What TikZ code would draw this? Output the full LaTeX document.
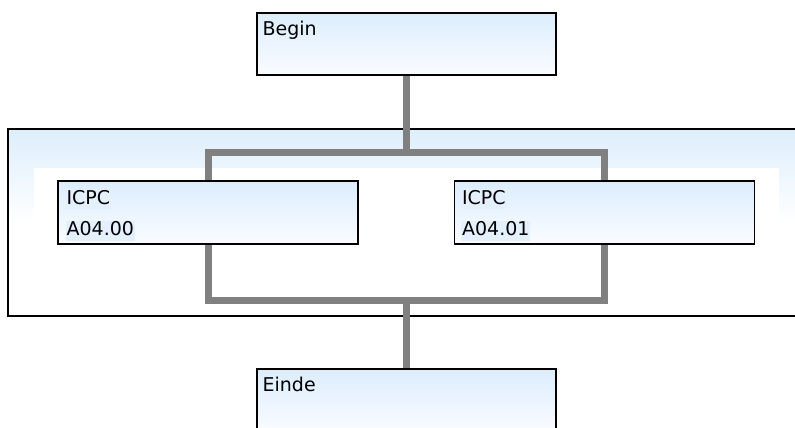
\documentclass[tikz,border=0pt]{standalone}
\usepackage{fontspec}
\setmainfont{DejaVu Sans}
\definecolor{boxtop}{HTML}{DCEDFD}
\definecolor{boxbottom}{HTML}{FAFCFF}
\definecolor{grouptop}{HTML}{DDEEFC}
\definecolor{bargray}{HTML}{808080}
\definecolor{hilite}{HTML}{E4F0FD}

\begin{document}
\begin{tikzpicture}[x=1pt,y=-1pt,
	box/.style={draw=black, line width=1.2pt, minimum width=299pt, minimum height=62pt, inner sep=0pt, top color=boxtop, bottom color=boxbottom},
	bar/.style={draw=bargray, line width=7pt, line join=miter},
	lbl/.style={anchor=base west, inner sep=0pt, font=\fontsize{19pt}{19pt}\selectfont},
	hl/.style={lbl, fill=hilite, inner xsep=1pt, text height=15pt, text depth=5pt}]
	\useasboundingbox (0,0) rectangle (795,428);
	\clip (0,0) rectangle (795,428);

	%group frame
	\node[draw=black, line width=1.2pt, minimum width=802pt, minimum height=187pt, inner sep=0pt,
		top color=grouptop, bottom color=white, middle color=white] (group) at (409,222.5) {};
	\fill[white] (34,168) rectangle (779,222);		%white band

	%boxes
	\node[box] (begin) at (406.5,44) {};
	\node[box, minimum width=300pt, minimum height=63pt] (icpc1) at (208,212.5) {};
	\node[box, minimum width=300pt, minimum height=63pt] (icpc2) at (604.5,212.5) {};
	\node[box, minimum height=63pt] (einde) at (406.5,400.5) {};

	%labels
	\node[lbl] (begin-txt) at ([shift={(6,23)}]begin.north west) {Begin};
	\node[hl] (icpc1-a) at ([shift={(8,24)}]icpc1.north west) {ICPC};
	\node[hl] (icpc1-b) at ([shift={(8,55.5)}]icpc1.north west) {A04.00};
	\node[hl] (icpc2-a) at ([shift={(7,24)}]icpc2.north west) {ICPC};
	\node[hl] (icpc2-b) at ([shift={(7,55.5)}]icpc2.north west) {A04.01};
	\node[lbl] (einde-txt) at ([shift={(6,23.5)}]einde.north west) {Einde};

	%connectors
	\coordinate (split) at (406.5,152.5);
	\coordinate (join) at (406.5,300);
	\draw[bar] (begin.south) -- (split);
	\draw[bar] (icpc1.north) -- (icpc1.north |- split) -- (icpc2.north |- split) -- (icpc2.north);
	\draw[bar] (icpc1.south) -- (icpc1.south |- join) -- (icpc2.south |- join) -- (icpc2.south);
	\draw[bar] (join) -- (einde.north);
\end{tikzpicture}
\end{document}
